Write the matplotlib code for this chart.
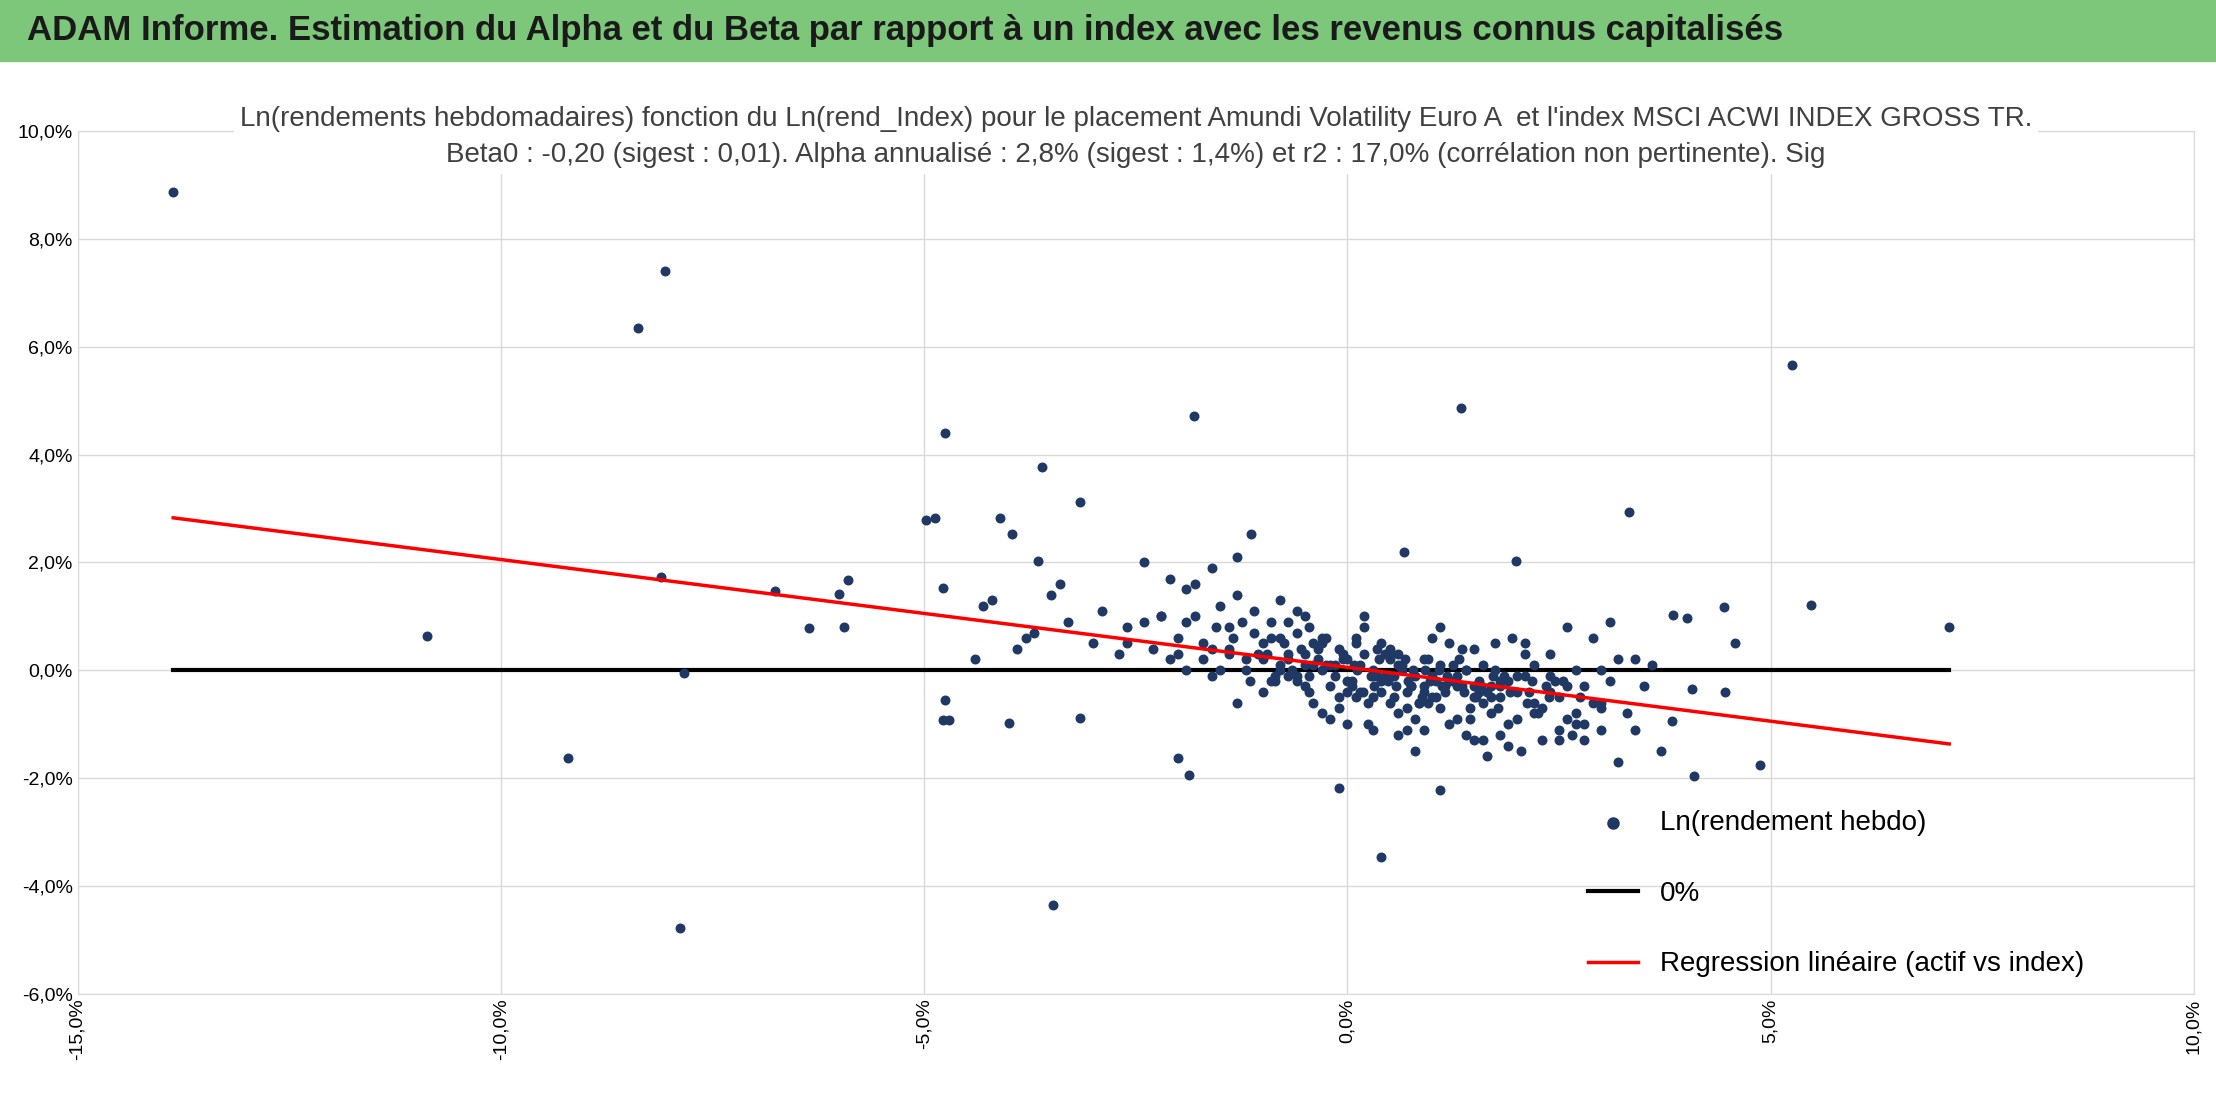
import matplotlib.pyplot as plt
from matplotlib.ticker import FuncFormatter

plt.rcParams['font.family'] = ['Liberation Sans', 'DejaVu Sans']

# weekly log returns, index (x, %) vs fund (y, %)
out_x = [-13.87, -8.06, -8.38, -10.87, -9.21, -8.11, -7.84, -7.88, -6.76, -6.36, -5.9, -5.95, -6.0,
         -4.98, -4.87, -4.75, -4.78, -4.75, -4.78, -4.7, -3.61, -3.16, -4.1, -3.96, -3.65, -3.48, -3.16,
         -4.0, -1.81, 1.34, 5.25, 5.48, 7.11, 4.88, 4.1, 0.4, -0.1, 1.09, 3.33, -1.14, 1.99, 0.67,
         -2.0, -1.87, 4.45, 4.58, 4.46, 3.85, 4.07, 4.01, 3.83, -4.3, -3.9, -3.8, -3.4, -3.3, -3.0,
         -2.9, -2.7, -2.6, -4.4, -4.2, -3.7, -3.5, -2.4, -2.2, -2.1, -1.9, -1.6, -1.3, 2.5, 2.8,
         3.0, 3.2, 3.5, 3.6, 3.4, 2.9, 2.6, 3.7, 3.1, 2.7]
out_y = [8.87, 7.4, 6.35, 0.63, -1.63, 1.73, -0.05, -4.78, 1.47, 0.79, 1.68, 0.81, 1.42,
         2.78, 2.83, 4.41, 1.52, -0.55, -0.92, -0.92, 3.78, 3.12, 2.83, 2.52, 2.02, -4.36, -0.89,
         -0.97, 4.72, 4.86, 5.67, 1.21, 0.81, -1.76, -1.97, -3.46, -2.18, -2.23, 2.94, 2.52, 2.02, 2.2,
         -1.63, -1.94, 1.18, 0.5, -0.4, 1.02, -0.34, 0.97, -0.95, 1.2, 0.4, 0.6, 1.6, 0.9, 0.5,
         1.1, 0.3, 0.8, 0.2, 1.3, 0.7, 1.4, 2.0, 1.0, 1.7, 1.5, 1.9, 2.1, -1.3, -1.0,
         -0.6, -1.7, -0.3, 0.1, -1.1, 0.6, 0.8, -1.5, 0.9, -0.8]
core_x = [-2.4, -2.2, -2.0, -1.8, -1.6, -1.5, -1.4, -1.2, -1.1, -1.0, -0.9, -0.8, -0.7, -0.6, -0.5,
          -0.4, -0.3, -0.2, -0.1, 0.0, 0.1, 0.2, 0.3, 0.4, 0.5, 0.6, 0.7, 0.8, 0.9, 1.0, 1.1, 1.2,
          1.3, 1.4, 1.5, 1.6, 1.7, 1.8, 1.9, 2.0, 2.1, 2.2, 2.3, 2.4, 2.5, 2.6, 2.8, 3.0,
          -2.3, -2.1, -1.9, -1.7, -1.5, -1.3, -1.1, -0.9, -0.7, -0.5, -0.3, -0.1, 0.1, 0.3, 0.5,
          0.7, 0.9, 1.1, 1.3, 1.5, 1.7, 1.9, 2.1, 2.3, 2.5, 2.7, 2.9, 3.1, 3.3,
          -1.8, -1.4, -1.0, -0.6, -0.2, 0.2, 0.6, 1.0, 1.4, 1.8, 2.2, 2.6, 3.0,
          -1.2, -0.8, -0.4, 0.0, 0.4, 0.8, 1.2, 1.6, 2.0, 2.4, 2.8, 3.2,
          -1.6, -1.0, -0.5, 0.05, 0.35, 0.65, 0.95, 1.25, 1.55, 1.85, 2.15, 2.45, 2.75,
          -0.7, -0.25, 0.15, 0.45, 0.75, 1.05, 1.35, 1.65, 1.95, 2.25,
          -2.6, -1.9, -1.3, -0.85, -0.45, 0.25, 0.55, 0.85, 1.15, 1.45, 1.75, 2.05, 2.35, 2.65, 3.4]
core_y = [0.9, 1.0, 0.6, 1.6, 0.4, 1.2, 0.8, 0.2, 1.1, 0.5, 0.9, 1.3, 0.3, 0.7, 1.0,
          0.1, 0.6, -0.3, 0.4, 0.2, -0.5, 0.8, 0.0, -0.2, -0.6, 0.3, -0.4, -0.9, 0.2, -0.1, -0.7, 0.5,
          -0.3, -1.2, -0.5, 0.1, -0.8, -0.2, -1.0, -0.4, 0.3, -0.6, -1.3, -0.1, -0.5, -0.9, -0.3, -1.1,
          0.4, 0.2, 0.9, 0.5, 0.0, 1.4, 0.7, -0.2, 0.9, 0.1, 0.5, -0.7, 0.6, -0.5, 0.4,
          -1.1, -0.3, 0.8, -0.9, 0.4, -0.3, -1.4, -0.1, -0.7, -1.1, 0.0, -0.6, -0.2, -0.8,
          1.0, 0.3, -0.4, 1.1, -0.9, 1.0, -0.8, 0.6, 0.0, -0.5, 0.1, -0.3, -0.7,
          0.0, 0.6, -0.6, -0.4, 0.5, -1.5, -0.2, -1.3, -0.9, -0.4, -1.3, 0.2,
          -0.1, 0.2, 0.3, -0.2, -0.1, 0.1, -0.6, -0.2, -0.4, -0.1, -0.4, -0.2, -0.5,
          -0.1, 0.1, -0.4, 0.3, -0.3, -0.5, 0.4, -1.6, 0.6, -0.8,
          0.5, 0.0, -0.6, -0.1, 0.8, -1.0, -0.1, -0.6, -0.3, -0.9, 0.5, -1.5, -0.3, -1.2, 0.2]
# the dense middle of the cloud
mid_x = [-0.95, -0.85, -0.75, -0.65, -0.55, -0.45, -0.35, -0.25, -0.15, -0.05, 0.05, 0.15, 0.25,
         0.35, 0.45, 0.55, 0.65, 0.75, 0.85, 0.95, 1.05, 1.15, 1.25, 1.35, 1.45, 1.55, 1.65, 1.75,
         -0.9, -0.8, -0.6, -0.4, -0.2, 0.0, 0.2, 0.4, 0.6, 0.8, 1.0, 1.2, 1.4, 1.6, 1.8, 2.0,
         -0.7, -0.5, -0.3, -0.1, 0.1, 0.3, 0.5, 0.7, 0.9, 1.1, 1.3, 1.5, 1.7, 1.9,
         -0.6, -0.35, -0.15, 0.12, 0.32, 0.52, 0.72, 0.92, 1.12, 1.32, 1.52, 1.72, 1.92, 2.12,
         -0.8, -0.45, -0.05, 0.18, 0.38, 0.58, 0.78, 0.98, 1.18, 1.38, 1.58, 1.78, 2.18, 2.38,
         -1.4, -1.25, -1.15, -1.05, -1.35, -1.55, -1.7, -2.0, 0.08, 0.28, 0.48, 0.68, 0.88, 1.08,
         -0.3, 0.0, 0.3, 0.6, 0.9, 1.2, 1.5, 1.8, 2.1, 2.4, 2.7, 3.0, 2.2, 2.55]
mid_y = [0.3, -0.2, 0.5, 0.0, 0.4, -0.4, 0.2, 0.6, -0.1, 0.3, -0.3, 0.1, -0.6, 0.4, -0.1, -0.5,
         0.0, -0.3, -0.6, 0.2, -0.2, -0.4, 0.1, -0.3, -0.7, -0.2, -0.4, 0.0,
         0.6, 0.0, -0.1, 0.5, 0.1, -0.2, 0.3, -0.4, 0.1, -0.1, -0.5, -0.2, 0.0, -0.6, -0.3, -0.1,
         0.2, -0.3, 0.0, -0.5, 0.5, -0.1, 0.2, -0.7, -0.4, 0.1, -0.1, -0.3, -0.5, -0.2,
         -0.2, 0.4, 0.1, 0.0, -0.3, 0.3, -0.2, 0.0, -0.3, 0.2, -0.5, -0.1, -0.4, -0.6,
         0.1, -0.1, 0.2, -0.4, 0.2, -0.3, 0.0, -0.2, -0.1, -0.4, -0.3, -0.7, -0.2, -0.5,
         0.4, 0.9, -0.2, 0.3, 0.6, 0.8, 0.2, 0.3, 0.1, -0.1, -0.2, 0.2, -0.5, 0.0,
         -0.8, -1.0, -1.1, -1.2, -1.1, -1.0, -1.3, -1.2, 0.5, 0.3, -1.0, 0.0, -0.8, -0.2]

beta, alpha = -0.20, 0.055
xs = out_x + core_x + mid_x
ys = out_y + core_y + mid_y
x_min, x_max = min(xs), max(xs)

fig = plt.figure(figsize=(22.16, 11.04), dpi=100)
fig.patches.append(plt.Rectangle((0, 0.945), 1, 0.055, transform=fig.transFigure,
                                 color='#7dc77a', zorder=0))
fig.text(0.012, 0.972, 'ADAM Informe. Estimation du Alpha et du Beta par rapport à un index avec les revenus connus capitalisés',
         fontsize=25, fontweight='bold', va='center', color='#1a1a1a')

ax = fig.add_axes([0.035, 0.1, 0.955, 0.781])
ax.scatter(xs, ys, s=38, color='#203864', zorder=3, label='Ln(rendement hebdo)')
ax.plot([x_min, x_max], [0, 0], color='black', lw=3, zorder=2, label='0%')
ax.plot([x_min, x_max], [alpha + beta * x_min, alpha + beta * x_max], color='red', lw=2.5,
        zorder=4, label='Regression linéaire (actif vs index)')
ax.set_xlim(-15, 10)
ax.set_ylim(-6, 10)
ax.set_xticks(range(-15, 11, 5))
ax.set_yticks(range(-6, 11, 2))
fmt = FuncFormatter(lambda v, p: ('%.1f%%' % v).replace('.', ','))
ax.xaxis.set_major_formatter(fmt)
ax.yaxis.set_major_formatter(fmt)
ax.tick_params(axis='x', rotation=90, labelsize=14, length=0)
ax.tick_params(axis='y', labelsize=14, length=0)
ax.grid(color='#d9d9d9', lw=1)
ax.set_axisbelow(True)
for s in ax.spines.values():
    s.set_color('#d9d9d9')
ax.set_title("Ln(rendements hebdomadaires) fonction du Ln(rend_Index) pour le placement Amundi Volatility Euro A  et l'index MSCI ACWI INDEX GROSS TR.\n"
             "Beta0 : -0,20 (sigest : 0,01). Alpha annualisé : 2,8% (sigest : 1,4%) et r2 : 17,0% (corrélation non pertinente). Sig",
             fontsize=20, color='#404040', y=0.955, linespacing=1.5,
             backgroundcolor='white')
ax.legend(loc='lower right', fontsize=20, frameon=False, labelspacing=1.6,
          handlelength=1.8, markerscale=1.3, bbox_to_anchor=(0.96, -0.01))

fig.savefig('out.png')
